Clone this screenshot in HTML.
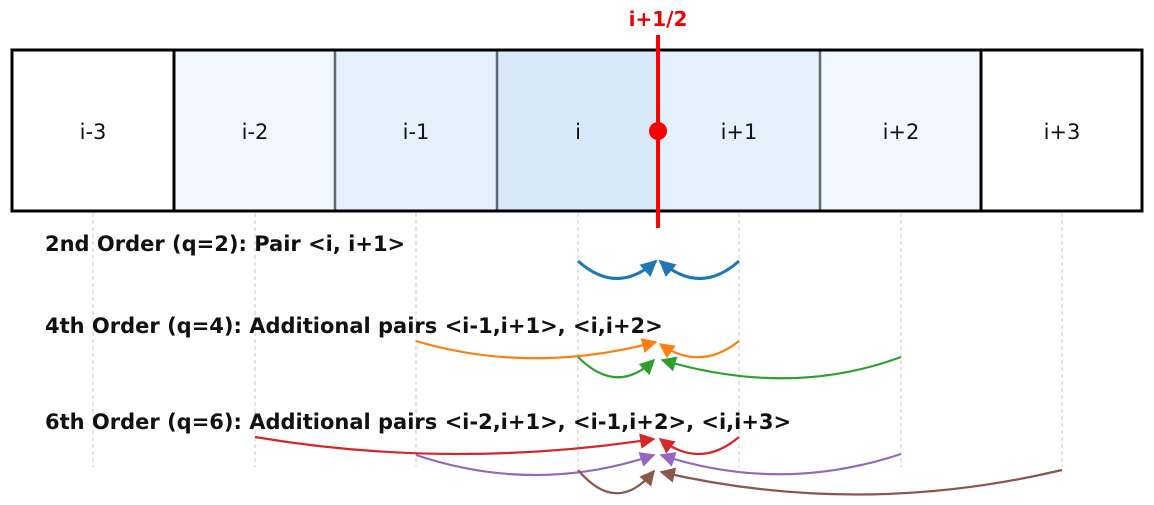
<!DOCTYPE html>
<html><head><meta charset="utf-8"><style>html,body{margin:0;padding:0;background:#fff}svg{display:block}</style></head>
<body>
<svg width="1154" height="505" viewBox="0 0 1154 505" xmlns="http://www.w3.org/2000/svg" font-family="DejaVu Sans, Liberation Sans, sans-serif">
<defs>
<marker id="a1" viewBox="0 0 10 10" refX="9" refY="5" markerWidth="5.5" markerHeight="5.5" orient="auto" markerUnits="strokeWidth"><path d="M0,0L10,5L0,10z" fill="#1f77b4"/></marker>
<marker id="a2" viewBox="0 0 10 10" refX="9" refY="5" markerWidth="7" markerHeight="7" orient="auto" markerUnits="strokeWidth"><path d="M0,0L10,5L0,10z" fill="#ff7f0e"/></marker>
<marker id="a3" viewBox="0 0 10 10" refX="9" refY="5" markerWidth="7" markerHeight="7" orient="auto" markerUnits="strokeWidth"><path d="M0,0L10,5L0,10z" fill="#2ca02c"/></marker>
<marker id="a4" viewBox="0 0 10 10" refX="9" refY="5" markerWidth="7" markerHeight="7" orient="auto" markerUnits="strokeWidth"><path d="M0,0L10,5L0,10z" fill="#d62728"/></marker>
<marker id="a5" viewBox="0 0 10 10" refX="9" refY="5" markerWidth="7" markerHeight="7" orient="auto" markerUnits="strokeWidth"><path d="M0,0L10,5L0,10z" fill="#9467bd"/></marker>
<marker id="a6" viewBox="0 0 10 10" refX="9" refY="5" markerWidth="7" markerHeight="7" orient="auto" markerUnits="strokeWidth"><path d="M0,0L10,5L0,10z" fill="#8c564b"/></marker>
</defs>
<g stroke="#c8c8c8" stroke-width="1" stroke-dasharray="4,3">
<line x1="93" y1="213" x2="93" y2="467"/><line x1="255" y1="213" x2="255" y2="467"/><line x1="416" y1="213" x2="416" y2="467"/><line x1="578" y1="213" x2="578" y2="467"/><line x1="739" y1="213" x2="739" y2="467"/><line x1="901" y1="213" x2="901" y2="467"/><line x1="1062" y1="213" x2="1062" y2="467"/>
</g>
<rect x="12" y="50" width="162" height="161" fill="#fff"/>
<rect x="174" y="50" width="161" height="161" fill="#f1f7fe"/>
<rect x="335" y="50" width="162" height="161" fill="#e4f0fc"/>
<rect x="497" y="50" width="161" height="161" fill="#d8e9fa"/>
<rect x="658" y="50" width="162" height="161" fill="#e4f0fc"/>
<rect x="820" y="50" width="161" height="161" fill="#f1f7fe"/>
<rect x="981" y="50" width="161" height="161" fill="#fff"/>
<g stroke="#5f6a72" stroke-width="2.5">
<line x1="335" y1="50" x2="335" y2="211"/><line x1="497" y1="50" x2="497" y2="211"/><line x1="658" y1="50" x2="658" y2="211"/><line x1="820" y1="50" x2="820" y2="211"/>
</g>
<g stroke="#000" stroke-width="3" fill="none">
<rect x="12" y="50" width="1130" height="161"/>
<line x1="174" y1="50" x2="174" y2="211"/><line x1="981" y1="50" x2="981" y2="211"/>
</g>
<g font-size="21" fill="#111" text-anchor="middle">
<text x="93" y="139">i-3</text><text x="255" y="139">i-2</text><text x="416" y="139">i-1</text><text x="578" y="139">i</text><text x="739" y="139">i+1</text><text x="901" y="139">i+2</text><text x="1062" y="139">i+3</text>
</g>
<line x1="658" y1="35" x2="658" y2="228" stroke="#ff0000" stroke-width="4"/>
<circle cx="658" cy="131" r="9" fill="#ff0000"/>
<text x="658" y="26" font-size="20" font-weight="bold" fill="#ee0000" text-anchor="middle">i+1/2</text>
<g font-size="21" font-weight="bold" fill="#111">
<text x="45" y="251">2nd Order (q=2): Pair &lt;i, i+1&gt;</text>
<text x="45" y="333">4th Order (q=4): Additional pairs &lt;i-1,i+1&gt;, &lt;i,i+2&gt;</text>
<text x="45" y="429">6th Order (q=6): Additional pairs &lt;i-2,i+1&gt;, &lt;i-1,i+2&gt;, &lt;i,i+3&gt;</text>
</g>
<g fill="none" stroke-width="3">
<path d="M578,261 Q617,296 656,261" stroke="#1f77b4" marker-end="url(#a1)"/>
<path d="M739,261 Q700,296 660,261" stroke="#1f77b4" marker-end="url(#a1)"/>
</g>
<g fill="none" stroke-width="2.2">
<path d="M416,341 Q530,375 656,342" stroke="#ff7f0e" marker-end="url(#a2)"/>
<path d="M739,341 Q700,372 660,344" stroke="#ff7f0e" marker-end="url(#a2)"/>
<path d="M578,357 Q617,396 654,360" stroke="#2ca02c" marker-end="url(#a3)"/>
<path d="M901,357 Q790,398 662,360" stroke="#2ca02c" marker-end="url(#a3)"/>
<path d="M255,437 Q450,470 654,439" stroke="#d62728" marker-end="url(#a4)"/>
<path d="M739,437 Q700,470 660,439" stroke="#d62728" marker-end="url(#a4)"/>
<path d="M416,455 Q535,495 654,455" stroke="#9467bd" marker-end="url(#a5)"/>
<path d="M901,454 Q780,494 661,455" stroke="#9467bd" marker-end="url(#a5)"/>
<path d="M578,470 Q617,516 654,471" stroke="#8c564b" marker-end="url(#a6)"/>
<path d="M1062,470 Q860,518 661,472" stroke="#8c564b" marker-end="url(#a6)"/>
</g>
</svg>
</body></html>
